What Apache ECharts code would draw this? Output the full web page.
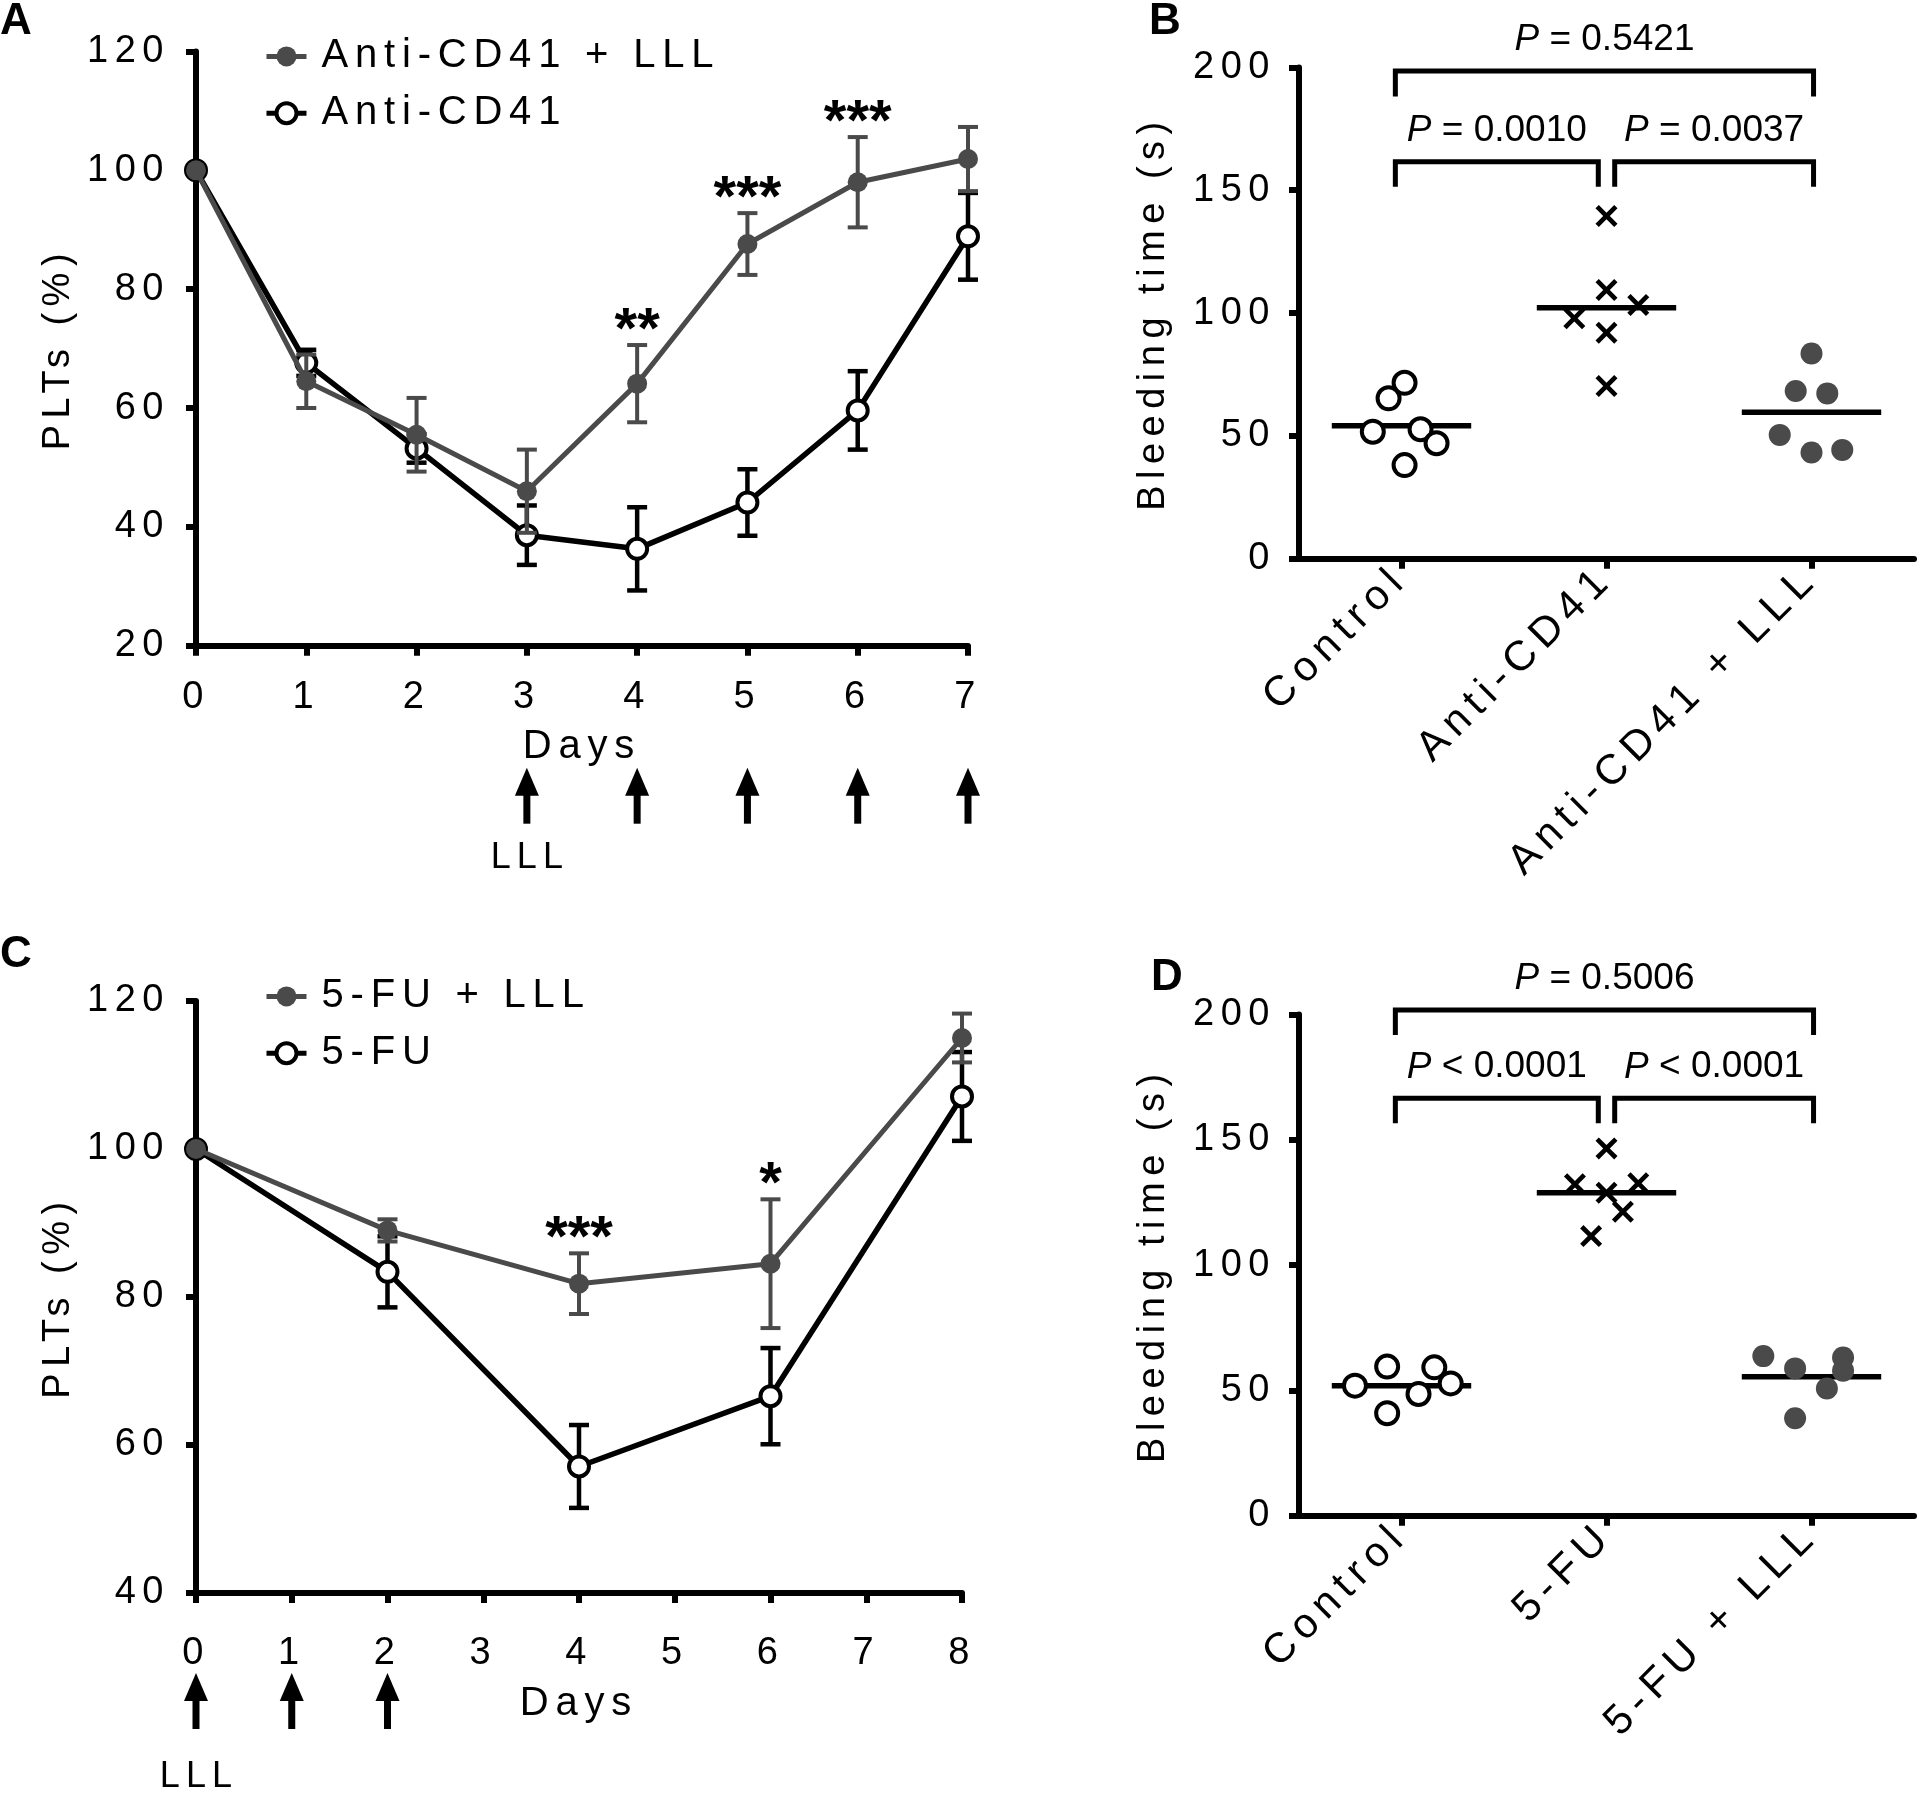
<!DOCTYPE html>
<html><head><meta charset="utf-8">
<script src="https://cdn.jsdelivr.net/npm/echarts@6/dist/echarts.min.js"></script>
<style>html,body{margin:0;padding:0;background:#fff}#c{width:1920px;height:1793px}</style>
</head><body><div id="c"></div>
<script>
// letter spacing for fonts whose family list contains the sentinel "LSp"
(function(){
  var proto = CanvasRenderingContext2D.prototype;
  var d = Object.getOwnPropertyDescriptor(proto, 'font');
  if (!d || !('letterSpacing' in proto)) return;
  Object.defineProperty(proto, 'font', {
    configurable: true,
    get: function(){ return d.get.call(this); },
    set: function(v){
      d.set.call(this, v);
      var m = /(\d+(?:\.\d+)?)px/.exec(v);
      this.letterSpacing = (v.indexOf('LSp') >= 0 && m) ? (parseFloat(m[1]) * 0.17).toFixed(1) + 'px' : '0px';
    }
  });
})();

// ===== DATA =====
// Panel A
const daysA = [0, 1, 2, 3, 4, 5, 6, 7];
const antiCD41LLL = [100, 64.5, 55.5, 46.0, 64.1, 87.6, 98.0, 101.9];
const antiCD41LLLSem = [0, 4.5, 6.2, 7.0, 6.5, 5.2, 7.6, 5.4];
const antiCD41 = [100, 67.6, 53.2, 38.6, 36.3, 44.1, 59.6, 88.9];
const antiCD41Sem = [0, 2.2, 2.4, 5.0, 7.0, 5.6, 6.6, 7.3];
const starsA = ['', '', '', '', '**', '***', '***', ''];
const lllDaysA = [3, 4, 5, 6, 7];
const xTicksA = [0, 7, 1];      // min, max, step
const yTicksA = [20, 120, 20];

// Panel C
const daysC = [0, 2, 4, 6, 8];
const fuLLL = [100, 89.0, 81.8, 84.5, 115.0];
const fuLLLSem = [0, 1.5, 4.1, 8.7, 3.3];
const fu = [100, 83.4, 57.1, 66.6, 107.1];
const fuSem = [0, 4.8, 5.6, 6.5, 6.0];
const starsC = ['', '', '***', '*', ''];
const lllDaysC = [0, 1, 2];
const xTicksC = [0, 8, 1];
const yTicksC = [40, 120, 20];

// Panel B
const groupsB = ['Control', 'Anti-CD41', 'Anti-CD41 + LLL'];
const bControl = [71.6, 65.3, 51.7, 52.7, 47.0, 38.1];
const bControlJitter = [0.015, -0.063, -0.14, 0.093, 0.171, 0.015];
const bAnti = [139.5, 109.4, 103.3, 97.9, 92.0, 70.3];
const bAntiJitter = [0, 0, 0.155, -0.157, 0, 0];
const bLLL = [83.5, 68.3, 67.3, 50.4, 43.2, 44.3];
const bLLLJitter = [0, -0.077, 0.077, -0.155, 0, 0.15];
const bMeans = [54.1, 102.2, 59.6];
const bPairs = [[0, 2], [0, 1], [1, 2]];
const bLevels = [198.5, 161.6, 161.6];
const bDrops = [188.2, 151.4, 151.4];
const bPText = ['= 0.5421', '= 0.0010', '= 0.0037'];

// Panel D
const groupsD = ['Control', '5-FU', '5-FU + LLL'];
const dControl = [59.5, 59.2, 51.9, 52.8, 48.6, 40.9];
const dControlJitter = [-0.07, 0.16, -0.227, 0.24, 0.083, -0.07];
const dFu = [146.6, 132.3, 132.7, 128.9, 121.3, 111.6];
const dFuJitter = [0, -0.154, 0.155, 0, 0.08, -0.075];
const dLLL = [63.7, 63.1, 58.8, 57.9, 50.8, 38.9];
const dLLLJitter = [-0.235, 0.154, -0.08, 0.154, 0.075, -0.08];
const dMeans = [51.9, 128.9, 55.5];
const dPairs = [[0, 2], [0, 1], [1, 2]];
const dLevels = [201.8, 166.6, 166.6];
const dDrops = [191.9, 156.6, 156.6];
const dPText = ['= 0.5006', '< 0.0001', '< 0.0001'];
const yTicksBD = [0, 200, 50];

// ===== STYLE =====
const SP = "LSp, 'Liberation Sans', Arial, sans-serif";
const PL = "'Liberation Sans', Arial, sans-serif";
const GRAY = '#4a4a4a';
const XPATH = 'path://M0,1.5L1.5,0L5,3.5L8.5,0L10,1.5L6.5,5L10,8.5L8.5,10L5,6.5L1.5,10L0,8.5L3.5,5Z';

function errRender(color, lw, cap) {
  return function (params, api) {
    const x = api.value(0), m = api.value(1), e = api.value(2);
    if (!e) return null;
    const t = api.coord([x, m + e]), b = api.coord([x, m - e]);
    const h = cap / 2;
    const st = { stroke: color, lineWidth: lw };
    return { type: 'group', children: [
      { type: 'line', shape: { x1: t[0], y1: t[1], x2: b[0], y2: b[1] }, style: st },
      { type: 'line', shape: { x1: t[0] - h, y1: t[1], x2: t[0] + h, y2: t[1] }, style: st },
      { type: 'line', shape: { x1: b[0] - h, y1: b[1], x2: b[0] + h, y2: b[1] }, style: st }
    ]};
  };
}
function starRender(stars) {
  return function (params, api) {
    const s = stars[params.dataIndex];
    if (!s) return null;
    const p = api.coord([api.value(0), api.value(1)]);
    return { type: 'text', x: p[0], y: p[1] - 13, style: { text: s, fontSize: 58, fontWeight: 'bold', fontFamily: PL, fill: '#000', align: 'center', verticalAlign: 'middle' } };
  };
}
function arrowRender(tipOff, len, labelOff) {
  return function (params, api) {
    const p = api.coord([api.value(0), api.value(1)]);
    const x = p[0], y0 = p[1];
    const tip = y0 + tipOff, base = tip + 28, bot = tip + len;
    const ch = [
      { type: 'polygon', shape: { points: [[x, tip], [x - 12, base], [x + 12, base]] }, style: { fill: '#000' } },
      { type: 'rect', shape: { x: x - 3.5, y: base - 1, width: 7, height: bot - base + 1 }, style: { fill: '#000' } }
    ];
    if (params.dataIndex === 0) ch.push({ type: 'text', x: x + 3, y: y0 + labelOff, style: { text: 'LLL', fontSize: 36, fontFamily: SP, fill: '#000', align: 'center', verticalAlign: 'middle' } });
    return { type: 'group', children: ch };
  };
}
function meanRender(params, api) {
  const a = api.coord([api.value(0) - 0.34, api.value(1)]);
  const b = api.coord([api.value(0) + 0.34, api.value(1)]);
  return { type: 'line', shape: { x1: a[0], y1: a[1], x2: b[0], y2: b[1] }, style: { stroke: '#000', lineWidth: 5.5 } };
}
function bracketRender(texts) {
  return function (params, api) {
    const from = api.value(0), to = api.value(1), lv = api.value(2), dr = api.value(3);
    const x1 = from + (from === 1 ? 0.04 : -0.03);
    const x2 = to + (to === 1 ? -0.04 : 0.01);
    const tl = api.coord([x1, lv]), tr = api.coord([x2, lv]);
    const bl = api.coord([x1, dr]), br = api.coord([x2, dr]);
    const st = { stroke: '#000', lineWidth: 5, fill: null };
    return { type: 'group', children: [
      { type: 'polyline', shape: { points: [[bl[0], bl[1]], [tl[0], tl[1]], [tr[0], tr[1]], [br[0], br[1]]] }, style: st },
      { type: 'text', x: (tl[0] + tr[0]) / 2, y: tl[1] - 31, style: {
        text: '{i|P} ' + texts[params.dataIndex], fontSize: 37, fontFamily: PL, fill: '#000', align: 'center', verticalAlign: 'middle',
        rich: { i: { fontStyle: 'italic', fontSize: 37, fontFamily: PL, fill: '#000' } } } }
    ]};
  };
}

const axLine = { lineStyle: { color: '#000', width: 6 } };
const axTick = { show: true, length: 10, lineStyle: { color: '#000', width: 6 } };
function valAxis(gi, t, extra) {
  return Object.assign({
    type: 'value', gridIndex: gi, min: t[0], max: t[1], interval: t[2],
    axisLine: Object.assign({ show: true, onZero: false }, axLine), axisTick: axTick, splitLine: { show: false },
    axisLabel: { fontSize: 38, fontFamily: SP, color: '#000' },
    nameTextStyle: { fontSize: 38, fontFamily: SP, color: '#000' }
  }, extra || {});
}
function catAxis(gi, cats) {
  return {
    type: 'category', gridIndex: gi, data: cats, boundaryGap: true,
    axisLine: Object.assign({ show: true }, axLine), axisTick: Object.assign({ alignWithLabel: true }, axTick),
    axisLabel: { rotate: 45, interval: 0, margin: 14, fontSize: 42, fontFamily: SP, color: '#000' }
  };
}
function hiddenX(gi) { return { type: 'value', gridIndex: gi, min: -0.5, max: 2.5, show: false }; }

function lineSeries(name, xi, yi, days, vals, gray, z) {
  return {
    type: 'line', name, xAxisIndex: xi, yAxisIndex: yi, z,
    data: days.map((d, i) => [d, vals[i]]),
    symbol: 'circle', symbolSize: 20, showAllSymbol: true,
    lineStyle: { color: gray ? GRAY : '#000', width: gray ? 5 : 5.5 },
    itemStyle: gray ? { color: GRAY, borderWidth: 0, opacity: 1 } : { color: '#fff', borderColor: '#000', borderWidth: 4, opacity: 1 },
    emphasis: { disabled: true }
  };
}
function errSeries(xi, yi, days, vals, sems, color, lw, z) {
  return { type: 'custom', xAxisIndex: xi, yAxisIndex: yi, z, renderItem: errRender(color, lw, 20),
    encode: { x: 0, y: 1 }, data: days.map((d, i) => [d, vals[i], sems[i]]) };
}
function scatterSeries(xi, yi, g, vals, jit, kind) {
  const s = { type: 'scatter', xAxisIndex: xi, yAxisIndex: yi, z: 5, data: vals.map((v, i) => [g + jit[i], v]), emphasis: { disabled: true } };
  if (kind === 'open') { s.symbol = 'circle'; s.symbolSize = 22; s.itemStyle = { color: '#fff', borderColor: '#000', borderWidth: 4, opacity: 1 }; }
  else if (kind === 'x') { s.symbol = XPATH; s.symbolSize = 22; s.itemStyle = { color: '#000', opacity: 1 }; }
  else { s.symbol = 'circle'; s.symbolSize = 22; s.itemStyle = { color: GRAY, opacity: 1 }; }
  return s;
}
function legendCfg(top, names) {
  return {
    orient: 'vertical', left: 259, top, itemWidth: 40, itemHeight: 25, itemGap: 10, selectedMode: false,
    textStyle: { fontSize: 40, fontFamily: SP, color: '#000', padding: [0, 0, 0, 10] },
    data: [
      { name: names[0], itemStyle: { color: GRAY, borderWidth: 0 }, lineStyle: { color: GRAY, width: 5 } },
      { name: names[1], itemStyle: { color: '#fff', borderColor: '#000', borderWidth: 4 }, lineStyle: { color: '#000', width: 5 } }
    ]
  };
}

const chart = echarts.init(document.getElementById('c'), null, { renderer: 'canvas' });
chart.setOption({
  animation: false,
  backgroundColor: '#fff',
  textStyle: { fontFamily: SP, color: '#000' },
  grid: [
    { left: 196, top: 51.5, width: 772, height: 594.2 },
    { left: 1299, top: 67.4, width: 615, height: 491.3 },
    { left: 196, top: 1001, width: 766, height: 592 },
    { left: 1299, top: 1014.6, width: 615, height: 501.1 }
  ],
  xAxis: [
    valAxis(0, xTicksA, { name: 'Days', nameLocation: 'middle', nameGap: 78, axisLabel: { fontSize: 38, fontFamily: SP, color: '#000', margin: 30 }, nameTextStyle: { fontSize: 40, fontFamily: SP, color: '#000' } }),
    catAxis(1, groupsB),
    hiddenX(1),
    valAxis(2, xTicksC, { name: 'Days', nameLocation: 'middle', nameGap: 88, axisLabel: { fontSize: 38, fontFamily: SP, color: '#000', margin: 38 }, nameTextStyle: { fontSize: 40, fontFamily: SP, color: '#000' } }),
    catAxis(3, groupsD),
    hiddenX(3)
  ],
  yAxis: [
    valAxis(0, yTicksA, { name: 'PLTs (%)', nameLocation: 'middle', nameRotate: 90, nameGap: 115, axisLabel: { fontSize: 38, fontFamily: SP, color: '#000', margin: 26 } }),
    valAxis(1, yTicksBD, { name: 'Bleeding time (s)', nameLocation: 'middle', nameRotate: 90, nameGap: 123, axisLabel: { fontSize: 38, fontFamily: SP, color: '#000', margin: 23 } }),
    valAxis(2, yTicksC, { name: 'PLTs (%)', nameLocation: 'middle', nameRotate: 90, nameGap: 115, axisLabel: { fontSize: 38, fontFamily: SP, color: '#000', margin: 26 } }),
    valAxis(3, yTicksBD, { name: 'Bleeding time (s)', nameLocation: 'middle', nameRotate: 90, nameGap: 123, axisLabel: { fontSize: 38, fontFamily: SP, color: '#000', margin: 23 } })
  ],
  legend: [
    legendCfg(28, ['Anti-CD41 + LLL', 'Anti-CD41']),
    legendCfg(968, ['5-FU + LLL', '5-FU'])
  ],
  graphic: [
    { type: 'text', left: 0, top: 0, style: { text: 'A', font: "bold 44px 'Liberation Sans', Arial", fill: '#000' } },
    { type: 'text', left: 1149, top: 0, style: { text: 'B', font: "bold 44px 'Liberation Sans', Arial", fill: '#000' } },
    { type: 'text', left: 0, top: 933, style: { text: 'C', font: "bold 44px 'Liberation Sans', Arial", fill: '#000' } },
    { type: 'text', left: 1151, top: 956, style: { text: 'D', font: "bold 44px 'Liberation Sans', Arial", fill: '#000' } }
  ],
  series: [
    // Panel A
    errSeries(0, 0, daysA, antiCD41, antiCD41Sem, '#000', 4.5, 2),
    lineSeries('Anti-CD41', 0, 0, daysA, antiCD41, false, 3),
    errSeries(0, 0, daysA, antiCD41LLL, antiCD41LLLSem, GRAY, 4, 4),
    lineSeries('Anti-CD41 + LLL', 0, 0, daysA, antiCD41LLL, true, 5),
    { type: 'custom', xAxisIndex: 0, yAxisIndex: 0, z: 6, renderItem: starRender(starsA), encode: { x: 0, y: 1 },
      data: daysA.map((d, i) => [d, antiCD41LLL[i] + antiCD41LLLSem[i]]) },
    { type: 'custom', xAxisIndex: 0, yAxisIndex: 0, z: 6, renderItem: arrowRender(122, 56, 212), encode: { x: 0, y: 1 },
      data: lllDaysA.map(d => [d, yTicksA[0]]) },
    // Panel C
    errSeries(3, 2, daysC, fu, fuSem, '#000', 4.5, 2),
    lineSeries('5-FU', 3, 2, daysC, fu, false, 3),
    errSeries(3, 2, daysC, fuLLL, fuLLLSem, GRAY, 4, 4),
    lineSeries('5-FU + LLL', 3, 2, daysC, fuLLL, true, 5),
    { type: 'custom', xAxisIndex: 3, yAxisIndex: 2, z: 6, renderItem: starRender(starsC), encode: { x: 0, y: 1 },
      data: daysC.map((d, i) => [d, fuLLL[i] + fuLLLSem[i]]) },
    { type: 'custom', xAxisIndex: 3, yAxisIndex: 2, z: 6, renderItem: arrowRender(80, 56, 184), encode: { x: 0, y: 1 },
      data: lllDaysC.map(d => [d, yTicksC[0]]) },
    // Panel B
    { type: 'custom', xAxisIndex: 2, yAxisIndex: 1, z: 3, renderItem: meanRender, encode: { x: 0, y: 1 }, data: bMeans.map((m, i) => [i, m]) },
    scatterSeries(2, 1, 0, bControl, bControlJitter, 'open'),
    scatterSeries(2, 1, 1, bAnti, bAntiJitter, 'x'),
    scatterSeries(2, 1, 2, bLLL, bLLLJitter, 'fill'),
    { type: 'custom', xAxisIndex: 2, yAxisIndex: 1, z: 6, renderItem: bracketRender(bPText), encode: { x: [0, 1], y: [2, 3] },
      data: bPairs.map((p, i) => [p[0], p[1], bLevels[i], bDrops[i]]) },
    // Panel D
    { type: 'custom', xAxisIndex: 5, yAxisIndex: 3, z: 3, renderItem: meanRender, encode: { x: 0, y: 1 }, data: dMeans.map((m, i) => [i, m]) },
    scatterSeries(5, 3, 0, dControl, dControlJitter, 'open'),
    scatterSeries(5, 3, 1, dFu, dFuJitter, 'x'),
    scatterSeries(5, 3, 2, dLLL, dLLLJitter, 'fill'),
    { type: 'custom', xAxisIndex: 5, yAxisIndex: 3, z: 6, renderItem: bracketRender(dPText), encode: { x: [0, 1], y: [2, 3] },
      data: dPairs.map((p, i) => [p[0], p[1], dLevels[i], dDrops[i]]) }
  ]
});
</script>
</body></html>
